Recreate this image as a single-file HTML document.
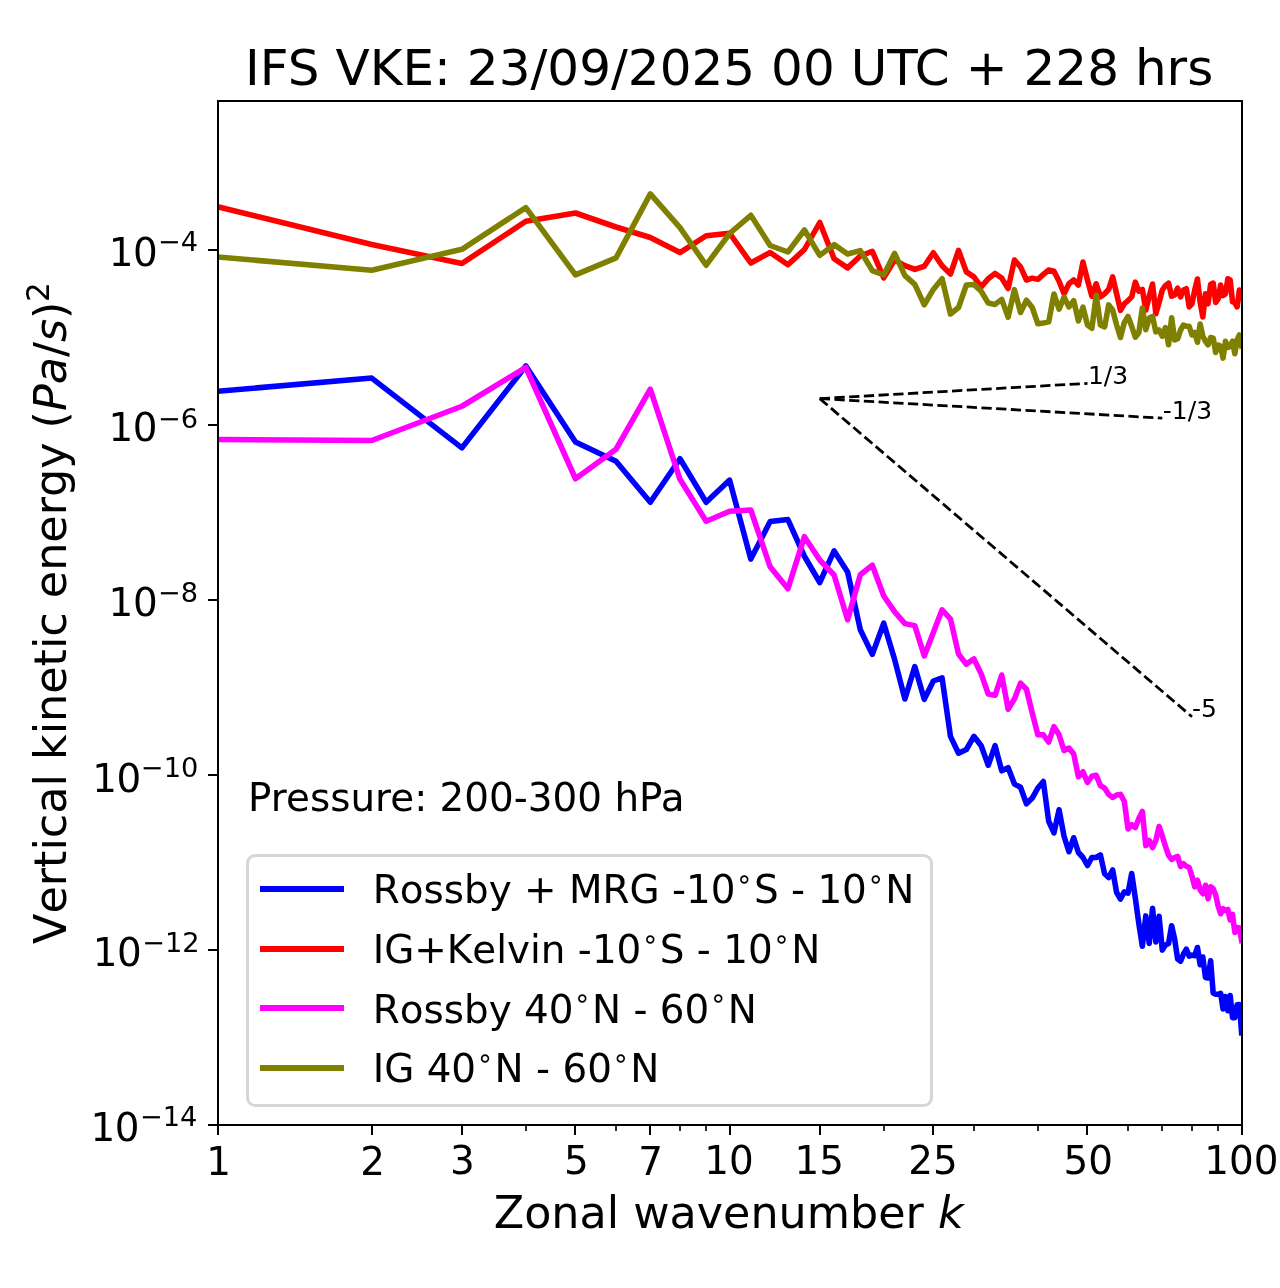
<!DOCTYPE html>
<html lang="en">
<head>
<meta charset="utf-8">
<title>IFS VKE: 23/09/2025 00 UTC + 228 hrs</title>
<style>
html,body{margin:0;padding:0;background:#fff}
body{width:1280px;height:1288px;overflow:hidden}
svg{display:block}
text{white-space:pre}
</style>
</head>
<body>
<svg width="1280" height="1288" viewBox="0 0 1280 1288" role="img" aria-label="IFS VKE spectrum">
<defs><clipPath id="ax"><rect x="218" y="101" width="1024" height="1024"/></clipPath></defs>
<rect width="1280" height="1288" fill="#fff"/>
<g clip-path="url(#ax)" fill="none" stroke-width="5.56" stroke-linejoin="round" stroke-linecap="square">
<polyline id="c-blue" stroke="#0000ff" points="217.6,391.25 371.73,378.1 461.89,447.9 525.85,366 575.47,442 616.01,461.25 650.29,502.25 679.98,458.75 706.17,502.25 729.6,480.1 750.79,559.1 770.14,521.6 787.94,519.6 804.42,556.25 819.76,582.5 834.11,550.9 847.59,571.9 860.3,629.7 872.32,654.35 883.73,623.2 894.58,659.4 904.92,699 914.8,666.6 924.27,699.3 933.35,681 942.07,677.8 950.46,736.4 958.54,753.2 966.35,749.5 973.89,736.3 981.18,745.8 988.24,765.25 995.08,745.7 1001.72,770.8 1008.16,767.7 1014.43,784 1020.52,787.3 1026.45,803.8 1032.23,798.1 1037.85,788 1043.35,781.5 1048.7,821.25 1053.94,832.9 1059.05,809.75 1064.04,836.25 1068.93,851.75 1073.71,837.75 1078.4,852.5 1082.98,857.5 1087.47,865.5 1091.88,857.5 1096.19,857.5 1100.43,855 1104.59,873.75 1108.67,877.5 1112.67,870 1116.61,892.5 1120.48,899 1124.28,891.9 1128.01,893.1 1131.69,873.5 1135.3,898 1138.86,923.75 1142.36,946.25 1145.81,915.9 1149.21,943.5 1152.55,908.2 1155.84,942 1159.09,916.3 1162.29,950.1 1165.44,944.9 1168.55,943.4 1171.62,925.7 1174.65,939.2 1177.63,959 1180.58,961.2 1183.48,954 1186.35,949.2 1189.19,956.1 1191.98,955.1 1194.74,955.7 1197.47,947.5 1200.17,964.8 1202.83,957 1205.46,977.5 1208.06,978 1210.63,960.8 1213.18,993.1 1215.69,994.3 1218.17,994.3 1220.63,993.4 1223.06,1009 1225.46,996.5 1227.84,1010.7 1230.19,995.6 1232.52,1017.7 1234.83,1017.6 1237.11,1004.8 1239.37,1004.6 1241.6,1032.7"/>
<polyline id="c-red" stroke="#ff0000" points="217.6,206.75 371.73,244.5 461.89,263.5 525.85,221.3 575.47,213 616.01,227 650.29,237.5 679.98,252.6 706.17,235.75 729.6,233.25 750.79,263 770.14,252.5 787.94,264.8 804.42,249.5 819.76,222.5 834.11,258.75 847.59,267.9 860.3,256 872.32,251.25 883.73,277.9 894.58,260 904.92,265.6 914.8,269.4 924.27,266.25 933.35,252.75 942.07,265.8 950.46,274 958.54,250.4 966.35,271.9 973.89,276.9 981.18,286.9 988.24,278.75 995.08,273.4 1001.72,278.1 1008.16,288.5 1014.43,260 1020.52,266.9 1026.45,280 1032.23,278.1 1037.85,279.4 1043.35,274.4 1048.7,270 1053.94,271.25 1059.05,281.25 1064.04,293.75 1068.93,283.75 1073.71,280 1078.4,285 1082.98,262.1 1087.47,280 1091.88,296.25 1096.19,283.75 1100.43,296.9 1104.59,293.75 1108.67,289.4 1112.67,276.9 1116.61,293.75 1120.48,310.4 1124.28,303.75 1128.01,300.6 1131.69,296.9 1135.3,282.1 1138.86,291.25 1142.36,289.4 1145.81,310 1149.21,296.25 1152.55,284 1155.84,313.75 1159.09,302.5 1162.29,290 1165.44,285.6 1168.55,283.1 1171.62,296.25 1174.65,295 1177.63,288.1 1180.58,296.9 1183.48,290 1186.35,288.75 1189.19,306.9 1191.98,303.75 1194.74,290 1197.47,279 1200.17,302.5 1202.83,316.9 1205.46,293.75 1208.06,303.75 1210.63,284.4 1213.18,283.1 1215.69,302.5 1218.17,298.75 1220.63,285 1223.06,295.6 1225.46,293.75 1227.84,278.75 1230.19,280 1232.52,301.9 1234.83,302.5 1237.11,306.9 1239.37,290 1241.6,298"/>
<polyline id="c-magenta" stroke="#ff00ff" points="217.6,439.5 371.73,440.5 461.89,406.25 525.85,367.5 575.47,478.75 616.01,449.25 650.29,389.1 679.98,479.3 706.17,521.25 729.6,511.25 750.79,510 770.14,566.8 787.94,588.7 804.42,536.7 819.76,560 834.11,575 847.59,619.75 860.3,574.7 872.32,565.3 883.73,596 894.58,611.7 904.92,623.6 914.8,625.6 924.27,655.9 933.35,632.6 942.07,609.8 950.46,619 958.54,654.1 966.35,664.3 973.89,658.85 981.18,673.9 988.24,694 995.08,695.3 1001.72,675 1008.16,709.3 1014.43,698.9 1020.52,683.15 1026.45,689.25 1032.23,713 1037.85,734.8 1043.35,734.8 1048.7,742.1 1053.94,726.6 1059.05,734.8 1064.04,750.5 1068.93,748 1073.71,754 1078.4,776.75 1082.98,771.8 1087.47,782.5 1091.88,776.25 1096.19,775.25 1100.43,785.6 1104.59,788.1 1108.67,794.4 1112.67,797.5 1116.61,795 1120.48,794.4 1124.28,801.25 1128.01,829 1131.69,824.7 1135.3,827.6 1138.86,818.5 1142.36,811.5 1145.81,845.6 1149.21,840.5 1152.55,847.5 1155.84,840.3 1159.09,826.5 1162.29,836 1165.44,846.25 1168.55,855.3 1171.62,859.4 1174.65,857.5 1177.63,856.4 1180.58,866.5 1183.48,863.75 1186.35,866.25 1189.19,867.5 1191.98,876.25 1194.74,886.9 1197.47,880.25 1200.17,890 1202.83,893.75 1205.46,885.25 1208.06,898.75 1210.63,886.75 1213.18,888.75 1215.69,895 1218.17,906.25 1220.63,913.75 1223.06,908.75 1225.46,910.6 1227.84,909.4 1230.19,920 1232.52,914.4 1234.83,932.5 1237.11,927.5 1239.37,928 1241.6,940.5"/>
<polyline id="c-olive" stroke="#808000" points="217.6,257 371.73,270.2 461.89,249.3 525.85,207.6 575.47,274.9 616.01,257.9 650.29,193.9 679.98,227.7 706.17,265.2 729.6,233.5 750.79,215.3 770.14,245.5 787.94,252 804.42,230 819.76,255.4 834.11,244.6 847.59,254 860.3,250.6 872.32,270.6 883.73,275 894.58,253.4 904.92,275.6 914.8,284.4 924.27,304.75 933.35,289.4 942.07,278.7 950.46,314 958.54,307.5 966.35,285 973.89,284.4 981.18,291.25 988.24,303.1 995.08,304.4 1001.72,299.4 1008.16,317.25 1014.43,289.6 1020.52,312.5 1026.45,300.25 1032.23,307.5 1037.85,323.75 1043.35,323.1 1048.7,321.9 1053.94,294 1059.05,309.1 1064.04,297.1 1068.93,306.9 1073.71,300.6 1078.4,321 1082.98,307.1 1087.47,325 1091.88,328.3 1096.19,295.25 1100.43,325 1104.59,326.9 1108.67,304.9 1112.67,310 1116.61,325 1120.48,337.5 1124.28,322.5 1128.01,316.5 1131.69,326.25 1135.3,337.25 1138.86,332.5 1142.36,308 1145.81,329.75 1149.21,318.1 1152.55,316.5 1155.84,331.9 1159.09,330 1162.29,336.25 1165.44,327.5 1168.55,344.75 1171.62,317.75 1174.65,340 1177.63,338.75 1180.58,330 1183.48,325 1186.35,326.25 1189.19,326.25 1191.98,335 1194.74,332.5 1197.47,342.25 1200.17,324 1202.83,336.25 1205.46,341.25 1208.06,344.75 1210.63,337.5 1213.18,338.1 1215.69,352.5 1218.17,345 1220.63,346.25 1223.06,358.1 1225.46,341.25 1227.84,347.5 1230.19,346.25 1232.52,341.25 1234.83,353.75 1237.11,340 1239.37,335 1241.6,346"/>
</g>
<g fill="none" stroke="#000" stroke-width="2.78" stroke-dasharray="10.28 4.44" stroke-linecap="butt">
<line x1="819.76" y1="398.6" x2="1087.47" y2="383.34"/>
<line x1="819.76" y1="398.6" x2="1162.29" y2="418.12"/>
<line x1="819.76" y1="398.6" x2="1191.98" y2="716.77"/>
</g>
<g fill="#000" shape-rendering="crispEdges">
<rect x="217" y="100" width="1026" height="2"/>
<rect x="217" y="1124" width="1026" height="2"/>
<rect x="217" y="100" width="2" height="1026"/>
<rect x="1241" y="100" width="2" height="1026"/>
<rect x="217" y="1125" width="2" height="10"/>
<rect x="371" y="1125" width="2" height="10"/>
<rect x="461" y="1125" width="2" height="10"/>
<rect x="574" y="1125" width="2" height="10"/>
<rect x="649" y="1125" width="2" height="10"/>
<rect x="729" y="1125" width="2" height="10"/>
<rect x="819" y="1125" width="2" height="10"/>
<rect x="932" y="1125" width="2" height="10"/>
<rect x="1086" y="1125" width="2" height="10"/>
<rect x="1241" y="1125" width="2" height="10"/>
<rect x="208" y="1124" width="10" height="2"/>
<rect x="208" y="949" width="10" height="2"/>
<rect x="208" y="774" width="10" height="2"/>
<rect x="208" y="599" width="10" height="2"/>
<rect x="208" y="424" width="10" height="2"/>
<rect x="208" y="249" width="10" height="2"/>
</g>
<g fill="#000" fill-opacity="0.835" shape-rendering="crispEdges">
<rect x="525" y="1125" width="2" height="6"/>
<rect x="615" y="1125" width="2" height="6"/>
<rect x="679" y="1125" width="2" height="6"/>
<rect x="705" y="1125" width="2" height="6"/>
<rect x="883" y="1125" width="2" height="6"/>
<rect x="973" y="1125" width="2" height="6"/>
<rect x="1037" y="1125" width="2" height="6"/>
<rect x="1127" y="1125" width="2" height="6"/>
<rect x="1161" y="1125" width="2" height="6"/>
<rect x="1191" y="1125" width="2" height="6"/>
<rect x="1217" y="1125" width="2" height="6"/>
</g>
<g font-family="'DejaVu Sans','Liberation Sans',sans-serif" fill="#000">
<g font-size="38.89" text-anchor="middle">
<text x="218.5" y="1175">1</text>
<text x="372.63" y="1175">2</text>
<text x="462.29" y="1174">3</text>
<text x="576.37" y="1174">5</text>
<text x="650.59" y="1175">7</text>
<text x="728.9" y="1174">10</text>
<text x="819.16" y="1174">15</text>
<text x="933.05" y="1174">25</text>
<text x="1088.27" y="1174">50</text>
<text x="1241.3" y="1174">100</text>
</g>
<g font-size="38.89" text-anchor="end" style="font-kerning:none">
<text x="197.4" y="1140.5">1<tspan dx="-0.4">0</tspan><tspan font-size="27.22" dx="0.36" dy="-14.6">−14</tspan></text>
<text x="199.6" y="966.44">1<tspan dx="-0.4">0</tspan><tspan font-size="27.22" dx="0.36" dy="-14.5">−12</tspan></text>
<text x="198.3" y="791.58">1<tspan dx="-0.4">0</tspan><tspan font-size="27.22" dx="-0.39" dy="-14.5">−10</tspan></text>
<text x="198.1" y="616.32">1<tspan dx="-0.4">0</tspan><tspan font-size="27.22" dx="0.36" dy="-14.6">−8</tspan></text>
<text x="198" y="440.96">1<tspan dx="-0.4">0</tspan><tspan font-size="27.22" dx="0.36" dy="-13.4">−6</tspan></text>
<text x="198.2" y="266.2">1<tspan dx="-0.4">0</tspan><tspan font-size="27.22" dx="0.36" dy="-15.6">−4</tspan></text>
</g>
<text x="493.7" y="1227.5" font-size="44.44" style="font-kerning:none" letter-spacing="0" text-anchor="start">Zonal wavenumber <tspan font-style="italic">k</tspan></text>
<text transform="translate(66 944) rotate(-90)" font-size="44.44" style="font-kerning:none" letter-spacing="0" text-anchor="start">Vertical kinetic energy (<tspan font-style="italic">Pa</tspan>/<tspan font-style="italic">s</tspan>)<tspan font-size="31.11" dx="-0.4" dy="-17">2</tspan></text>
<text x="729.2" y="85.3" font-size="50" text-anchor="middle" letter-spacing="0.015">IFS VKE: 23/09/2025 00 UTC + 228 hrs</text>
<text x="248.1" y="811.3" font-size="38.89" letter-spacing="0.005">Pressure: 200-300 hPa</text>
<g font-size="25">
<text x="1087.97" y="384.34">1/3</text>
<text x="1162.79" y="419.12">-1/3</text>
<text x="1191.98" y="716.87">-5</text>
</g>
</g>
<rect x="247.5" y="855.5" width="684" height="250" rx="7.8" ry="7.8" fill="#fff" fill-opacity="0.8" stroke="#ccc" stroke-opacity="0.8" stroke-width="3"/>
<g shape-rendering="crispEdges">
<rect x="260" y="886" width="84" height="6" fill="#0000ff"/>
<rect x="260" y="946" width="84" height="6" fill="#ff0000"/>
<rect x="260" y="1005" width="84" height="6" fill="#ff00ff"/>
<rect x="260" y="1065" width="84" height="6" fill="#808000"/>
</g>
<g font-family="'DejaVu Sans','Liberation Sans',sans-serif" fill="#000" font-size="38.89" style="font-kerning:none" letter-spacing="0">
<text x="372.7" y="903.2">Rossby + MRG -10<tspan font-size="27.22" dx="0.36" dy="-15.6">∘</tspan><tspan dx="1.04" dy="15.6">S</tspan> - 10<tspan font-size="27.22" dx="0.36" dy="-15.6">∘</tspan><tspan dx="1.04" dy="15.6">N</tspan></text>
<text x="372.7" y="963.2">IG+Kelvin -10<tspan font-size="27.22" dx="0.36" dy="-15.6">∘</tspan><tspan dx="1.04" dy="15.6">S</tspan> - 10<tspan font-size="27.22" dx="0.36" dy="-15.6">∘</tspan><tspan dx="1.04" dy="15.6">N</tspan></text>
<text x="372.7" y="1022.6">Rossby 40<tspan font-size="27.22" dx="0.36" dy="-15.6">∘</tspan><tspan dx="1.04" dy="15.6">N</tspan> - 60<tspan font-size="27.22" dx="0.36" dy="-15.6">∘</tspan><tspan dx="1.04" dy="15.6">N</tspan></text>
<text x="372.7" y="1082.3">IG 40<tspan font-size="27.22" dx="0.36" dy="-15.6">∘</tspan><tspan dx="1.04" dy="15.6">N</tspan> - 60<tspan font-size="27.22" dx="0.36" dy="-15.6">∘</tspan><tspan dx="1.04" dy="15.6">N</tspan></text>
</g>
</svg>
</body>
</html>
